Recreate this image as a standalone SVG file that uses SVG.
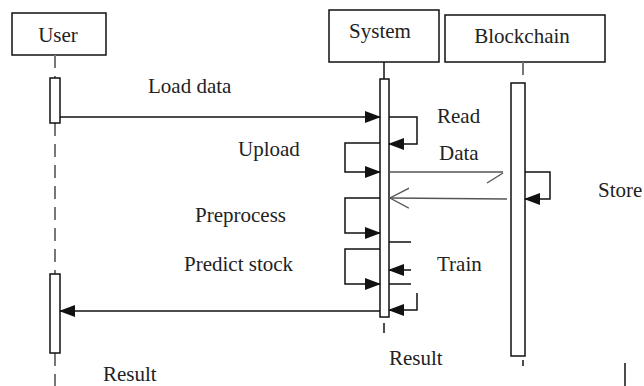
<svg xmlns="http://www.w3.org/2000/svg" width="644" height="386" viewBox="0 0 644 386" font-family="'Liberation Serif', 'Times New Roman', 'DejaVu Serif', serif">
<defs>
<style>
text{font-family:'Liberation Serif','Times New Roman','DejaVu Serif',serif;font-size:21px;fill:#222}
.box{fill:#fff;stroke:#111;stroke-width:1.5}
.act{fill:#fff;stroke:#111;stroke-width:1.5}
.life{stroke:#777;stroke-width:2;stroke-dasharray:13 8;fill:none}
.msg{stroke:#111;stroke-width:1.5;fill:none}
.thin{stroke:#555;stroke-width:1.3;fill:none}
</style>
<marker id="fa" markerWidth="16" markerHeight="12" refX="15" refY="6" orient="auto" markerUnits="userSpaceOnUse">
<path d="M0,0 L16,6 L0,12 Z" fill="#111"/>
</marker>
<marker id="oa" markerWidth="20" markerHeight="22" refX="19" refY="11" orient="auto" markerUnits="userSpaceOnUse">
<path d="M0,1 L19,11 L0,21" fill="none" stroke="#555" stroke-width="1.3"/>
</marker>
</defs>
<rect width="644" height="386" fill="#fff"/>

<g id="user">
<rect class="box" x="12" y="13" width="94" height="42"/>
<text x="58" y="42" text-anchor="middle">User</text>
<line class="life" x1="55" y1="55" x2="55" y2="78"/>
<line class="life" x1="55" y1="123" x2="55" y2="274"/>
<line class="life" x1="55" y1="353" x2="55" y2="386"/>
<rect class="act" x="50" y="78" width="10" height="45"/>
<rect class="act" x="50" y="274" width="10" height="79"/>
</g>

<g id="system">
<rect class="box" x="329" y="10" width="110" height="52"/>
<text x="380" y="38" text-anchor="middle">System</text>
<line class="msg" x1="384" y1="62" x2="384" y2="79"/>
<line class="msg" x1="384" y1="323" x2="384" y2="333"/>
<rect class="act" x="380" y="79" width="9" height="238"/>
</g>

<g id="blockchain">
<rect class="box" x="445" y="15" width="160" height="47"/>
<text x="522" y="43" text-anchor="middle">Blockchain</text>
<line class="life" x1="523" y1="62" x2="523" y2="83" stroke-dasharray="5 4"/>
<line class="msg" x1="523" y1="360" x2="523" y2="366"/>
<rect class="act" x="511" y="83" width="14" height="273"/>
</g>

<g id="connectors">
<line class="msg" x1="60" y1="117" x2="380" y2="117" marker-end="url(#fa)"/>
<polyline class="msg" points="389,117 417,117 417,144 389,144" marker-end="url(#fa)"/>
<polyline class="msg" points="380,143 345,143 345,172 380,172" marker-end="url(#fa)"/>
<line class="thin" x1="389" y1="172" x2="503" y2="172"/>
<line class="thin" x1="487" y1="183" x2="503" y2="173"/>
<polyline class="msg" points="525,172 550,172 550,199 525,199" marker-end="url(#fa)"/>
<line class="thin" x1="507" y1="199" x2="390" y2="198" marker-end="url(#oa)"/>
<polyline class="msg" points="380,198 345,198 345,233 380,233" marker-end="url(#fa)"/>
<polyline class="msg" points="380,249 345,249 345,284 380,284" marker-end="url(#fa)"/>
<line class="msg" x1="389" y1="242" x2="411" y2="242"/>
<line class="msg" x1="411" y1="270" x2="389" y2="270" marker-end="url(#fa)"/>
<line class="msg" x1="389" y1="284" x2="411" y2="284"/>
<polyline class="msg" points="417,293 417,310 389,310" marker-end="url(#fa)"/>
<line class="msg" x1="380" y1="311" x2="60" y2="311" marker-end="url(#fa)"/>
<line class="msg" x1="625" y1="363" x2="625" y2="386"/>
</g>

<g id="labels">
<text x="148" y="93">Load data</text>
<text x="437" y="123">Read</text>
<text x="238" y="156">Upload</text>
<text x="439" y="160">Data</text>
<text x="598" y="197">Store</text>
<text x="195" y="222">Preprocess</text>
<text x="184" y="271">Predict stock</text>
<text x="437" y="271">Train</text>
<text x="389" y="365">Result</text>
<text x="103" y="381">Result</text>
</g>
</svg>
